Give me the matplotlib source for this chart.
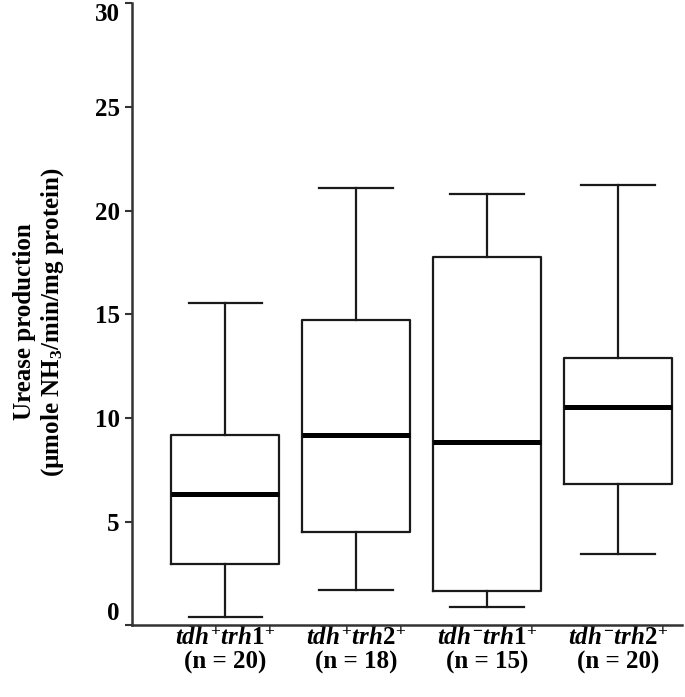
import matplotlib
matplotlib.use("Agg")
import matplotlib.pyplot as plt

plt.rcParams['font.family'] = ['Liberation Serif', 'DejaVu Serif']
plt.rcParams['font.weight'] = 'bold'
plt.rcParams['mathtext.fontset'] = 'custom'
plt.rcParams['mathtext.rm'] = 'Liberation Serif:bold'
plt.rcParams['mathtext.it'] = 'Liberation Serif:bold:italic'
plt.rcParams['mathtext.bf'] = 'Liberation Serif:bold'

groups = [r'$\mathit{tdh}^{+}\mathit{trh}1^{+}$', r'$\mathit{tdh}^{+}\mathit{trh}2^{+}$',
          r'$\mathit{tdh}^{-}\mathit{trh}1^{+}$', r'$\mathit{tdh}^{-}\mathit{trh}2^{+}$']
n_values = [20, 18, 15, 20]
whisker_low = [0.42, 1.71, 0.88, 3.46]
q1 = [2.95, 4.53, 1.66, 6.81]
median = [6.34, 9.19, 8.84, 10.51]
q3 = [9.19, 14.74, 17.76, 12.89]
whisker_high = [15.52, 21.1, 20.82, 21.25]
yticks = [0, 5, 10, 15, 20, 25, 30]

fig = plt.figure(figsize=(6.85, 6.97), dpi=100)
ax = fig.add_axes([0.193, 0.1026, 0.803, 0.893])

stats = []
for i in range(len(groups)):
    stats.append(dict(whislo=whisker_low[i], q1=q1[i], med=median[i], q3=q3[i],
                      whishi=whisker_high[i], fliers=[]))

lc = '#1a1a1a'
ax.bxp(stats, positions=[1, 2, 3, 4], widths=0.82, showfliers=False,
       boxprops=dict(color=lc, linewidth=1.6),
       whiskerprops=dict(color=lc, linewidth=1.6),
       capprops=dict(color=lc, linewidth=1.6),
       medianprops=dict(color='black', linewidth=3.6, solid_capstyle='butt'),
       capwidths=0.56)

ax.set_xlim(0.29, 4.49)
ax.set_ylim(0, 30)
ax.set_yticks(yticks)
ylabels = ax.set_yticklabels([str(v) for v in yticks], fontsize=18, fontweight='bold')
ylabels[0].set_va('bottom')
ylabels[-1].set_va('top')
ax.set_xticks([1, 2, 3, 4])
ax.set_xticklabels([g + '\n' + f'(n = {n})' for g, n in zip(groups, n_values)],
                   fontsize=18, fontweight='bold', linespacing=1.05)
ax.tick_params(axis='x', length=0, pad=1)
ax.tick_params(axis='y', length=5, width=1.5, color='#333333', pad=4)
for s in ['top', 'right']:
    ax.spines[s].set_visible(False)
for s in ['left', 'bottom']:
    ax.spines[s].set_linewidth(1.8)
    ax.spines[s].set_color('#333333')

ax.set_ylabel('Urease production\n(µmole NH$_3$/min/mg protein)', fontsize=18,
              fontweight='bold', linespacing=1.15, va='center')
ax.yaxis.set_label_coords(-0.169, 0.488)

fig.savefig('out.png', dpi=100)
